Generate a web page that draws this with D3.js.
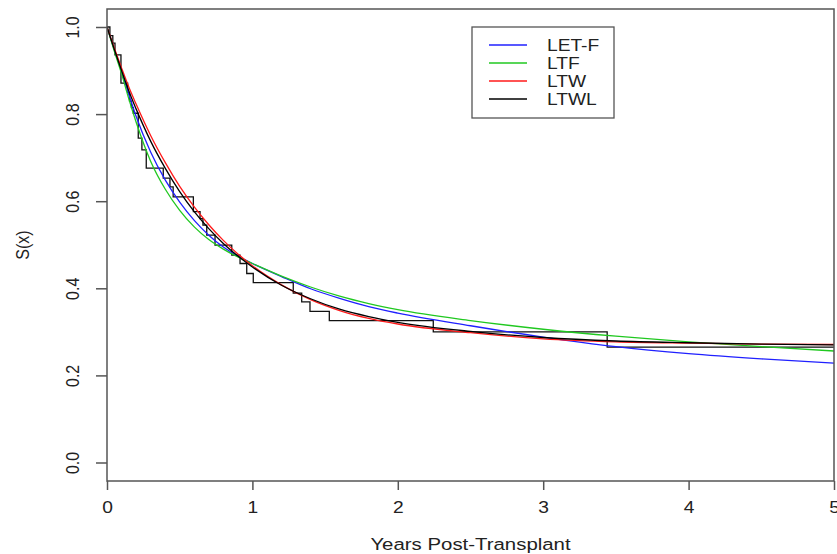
<!DOCTYPE html>
<html><head><meta charset="utf-8">
<script src="https://cdn.jsdelivr.net/npm/d3@7"></script>
<style>body{margin:0;background:#fff}svg{display:block}</style>
</head><body>
<svg id="c" width="837" height="554"></svg>
<script>
// ---- data ----
const timeGrid = [0,0.05,0.1,0.15,0.2,0.3,0.4,0.5,0.6,0.7,0.8,0.9,1.0,1.2,1.4,1.6,1.8,2.0,2.5,3.0,3.5,4.0,4.5,5.0];
const letF = [1.0,0.948,0.898,0.845,0.795,0.713,0.649,0.598,0.556,0.522,0.495,0.474,0.457,0.427,0.399,0.377,0.358,0.343,0.314,0.288,0.266,0.250,0.238,0.228];
const ltf  = [1.0,0.945,0.893,0.835,0.782,0.692,0.628,0.579,0.541,0.512,0.490,0.472,0.457,0.428,0.403,0.382,0.365,0.351,0.326,0.306,0.290,0.277,0.266,0.256];
const ltw  = [1.0,0.952,0.906,0.862,0.823,0.751,0.689,0.634,0.587,0.546,0.510,0.479,0.452,0.408,0.374,0.349,0.331,0.318,0.298,0.284,0.277,0.274,0.272,0.271];
const ltwl = [1.0,0.949,0.900,0.853,0.812,0.738,0.676,0.622,0.576,0.537,0.503,0.474,0.449,0.407,0.376,0.352,0.335,0.322,0.301,0.287,0.279,0.275,0.272,0.270];
const kmTimes = [0,0.02,0.04,0.055,0.096,0.142,0.155,0.168,0.181,0.215,0.24,0.27,0.387,0.433,0.455,0.594,0.64,0.66,0.686,0.743,0.858,0.915,0.961,1.006,1.281,1.339,1.396,1.529,2.244,3.44];
const kmSurv  = [1.0,0.98,0.963,0.936,0.871,0.85,0.83,0.815,0.802,0.745,0.718,0.676,0.653,0.633,0.610,0.576,0.56,0.545,0.522,0.499,0.476,0.457,0.434,0.413,0.389,0.369,0.347,0.326,0.300,0.265];
const xMax = 5;
const xTicks = [0,1,2,3,4,5];
const yTicks = [0,0.2,0.4,0.6,0.8,1.0];
const yTickLabels = ["0.0","0.2","0.4","0.6","0.8","1.0"];
const seriesNames = ["LET-F","LTF","LTW","LTWL"];
const seriesColors = ["#2020ff","#20c820","#ff1a1a","#000000"];
const xTitle = "Years Post-Transplant";
const yTitle = "S(x)";

// ---- drawing ----
const svg = d3.select("#c");
const font = "'Liberation Sans', Arial, Helvetica, sans-serif";
const SX = 1.2; // horizontal stretch of the reference's lettering
const L = 107, R = 834, T = 9, B = 481;
const x = d3.scaleLinear().domain([0, 5]).range([L, R]);
const y = d3.scaleLinear().domain([0, 1]).range([462.5, 27]);
const axisCol = "#555";
const txtCol = "#222";

svg.append("defs").append("clipPath").attr("id","clip")
  .append("rect").attr("x",L).attr("y",T).attr("width",R-L).attr("height",B-T);

const plot = svg.append("g").attr("clip-path","url(#clip)");

// KM step
const kmPts = kmTimes.map((t,i)=>[t,kmSurv[i]]);
kmPts.push([xMax, kmSurv[kmSurv.length-1]]);
plot.append("path").datum(kmPts)
  .attr("d", d3.line().x(d=>x(d[0])).y(d=>y(d[1])).curve(d3.curveStepAfter))
  .attr("fill","none").attr("stroke","#111").attr("stroke-width",1.3);

// smooth fitted curves
const series = [letF, ltf, ltw, ltwl];
const lineGen = d3.line().x((d,i)=>x(timeGrid[i])).y(d=>y(d)).curve(d3.curveMonotoneX);
series.forEach((s,k)=>{
  plot.append("path").datum(s).attr("d", lineGen)
    .attr("fill","none").attr("stroke",seriesColors[k]).attr("stroke-width",1.3);
});

// box
svg.append("rect").attr("x",L).attr("y",T).attr("width",R-L).attr("height",B-T)
  .attr("fill","none").attr("stroke",axisCol).attr("stroke-width",1.5);

// x axis
const gx = svg.append("g").attr("transform",`translate(0,${B})`)
  .call(d3.axisBottom(x).tickValues(xTicks).tickSize(9).tickPadding(12).tickFormat(d3.format("d")));
gx.select(".domain").remove();
gx.selectAll("line").attr("stroke",axisCol).attr("stroke-width",1.5);
gx.selectAll("text").attr("font-family",font).attr("font-size",16).attr("fill",txtCol)
  .attr("transform",`scale(${SX},1)`);

// y axis
const gy = svg.append("g").attr("transform",`translate(${L},0)`)
  .call(d3.axisLeft(y).tickValues(yTicks).tickSize(11).tickFormat((d,i)=>yTickLabels[i]));
gy.select(".domain").remove();
gy.selectAll("line").attr("stroke",axisCol).attr("stroke-width",1.5);
gy.selectAll("text")
  .attr("font-family",font).attr("font-size",16).attr("fill",txtCol)
  .attr("text-anchor","middle").attr("dy",null)
  .attr("x",null)
  .attr("transform",`translate(-28,0) scale(${SX},1) rotate(-90)`);

// titles
svg.append("text").attr("transform",`translate(${(L+R)/2},550) scale(${SX},1)`).attr("text-anchor","middle")
  .attr("font-family",font).attr("font-size",17).attr("fill",txtCol).text(xTitle);
svg.append("text").attr("transform",`translate(29,${(T+B)/2}) scale(${SX},1) rotate(-90)`).attr("text-anchor","middle")
  .attr("font-family",font).attr("font-size",16).attr("fill",txtCol).text(yTitle);

// legend
const lg = svg.append("g");
lg.append("rect").attr("x",472).attr("y",27).attr("width",142).attr("height",91)
  .attr("fill","#fff").attr("stroke",axisCol).attr("stroke-width",1.3);
seriesNames.forEach((n,i)=>{
  const yy = 45 + i*18;
  lg.append("line").attr("x1",489).attr("x2",527).attr("y1",yy).attr("y2",yy)
    .attr("stroke",seriesColors[i]).attr("stroke-width",1.3);
  lg.append("text").attr("transform",`translate(547,${yy+5.5}) scale(${SX},1)`).attr("font-family",font)
    .attr("font-size",16).attr("fill",txtCol).text(n);
});
</script>
</body></html>
